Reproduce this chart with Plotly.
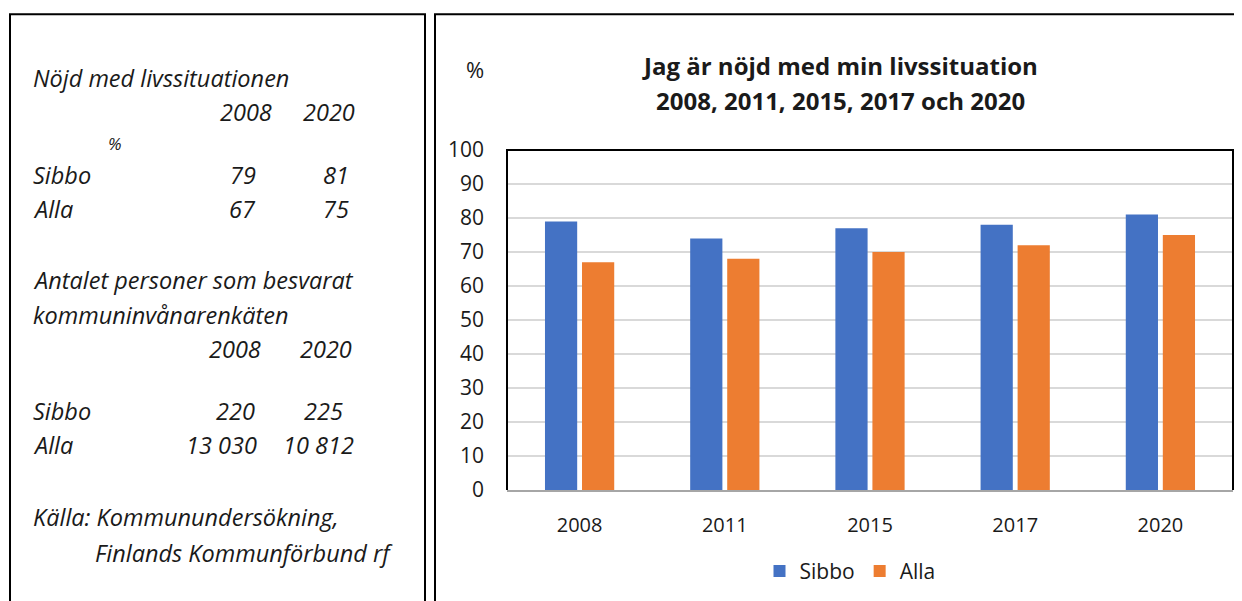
import plotly.graph_objects as go

years = ["2008", "2011", "2015", "2017", "2020"]
sibbo = [79, 74, 77, 78, 81]
alla = [67, 68, 70, 72, 75]
series_names = ["Sibbo", "Alla"]
y_ticks = [0, 10, 20, 30, 40, 50, 60, 70, 80, 90, 100]

side_years = ["2008", "2020"]
side_pct_sibbo = ["79", "81"]
side_pct_alla = ["67", "75"]
side_n_sibbo = ["220", "225"]
side_n_alla = ["13 030", "10 812"]

# page body has an 8px default margin, so work in screen pixels and offset
OFF = 8
W, H = 1242 - OFF, 601 - OFF
L, R, T, B = 507, 1233, 150, 493          # plot area in screen pixels
FONT = "Open Sans"
BLUE = "#4472C4"
ORANGE = "#ED7D31"
TXT = "#1a1a1a"


def xp(px):
    return (px - L) / (R - L)


def yp(py):
    return (B - py) / (B - T)


fig = go.Figure()
fig.add_trace(go.Bar(x=years, y=sibbo, name=series_names[0], marker=dict(color=BLUE, line=dict(width=0))))
fig.add_trace(go.Bar(x=years, y=alla, name=series_names[1], marker=dict(color=ORANGE, line=dict(width=0))))

fig.update_layout(
    width=W, height=H,
    margin=dict(l=L - OFF, r=W - (R - OFF), t=T - OFF, b=H - (B - OFF), pad=0),
    paper_bgcolor="white", plot_bgcolor="white",
    barmode="group", bargap=0.49, bargroupgap=0.13,
    font=dict(family=FONT, size=20, color=TXT),
    showlegend=True,
    legend=dict(orientation="h", x=xp(850), y=yp(575), xanchor="center", yanchor="middle",
                font=dict(size=21, color=TXT), itemwidth=30, traceorder="normal",
                bgcolor="rgba(0,0,0,0)"),
    xaxis=dict(showgrid=False, showline=True, linecolor="#a6a6a6", linewidth=2,
               ticks="", tickfont=dict(size=20), ticklabelstandoff=16, fixedrange=True),
    yaxis=dict(range=[0, 100], tickvals=y_ticks, showgrid=True, gridcolor="#d9d9d9", gridwidth=2,
               zeroline=False, showline=False, ticks="", tickfont=dict(size=21),
               ticklabelstandoff=22, fixedrange=True),
)

shapes = []
# plot area border (top, left, right) in black
shapes.append(dict(type="path", xref="paper", yref="paper",
                   path="M 0 0 L 0 1 L 1 1 L 1 0",
                   line=dict(color="black", width=2), layer="above"))
# left text box
shapes.append(dict(type="path", xref="paper", yref="paper",
                   path=f"M {xp(10)} {yp(640)} L {xp(10)} {yp(13)} L {xp(425)} {yp(13)} L {xp(425)} {yp(640)}",
                   line=dict(color="black", width=2)))
# right chart box
shapes.append(dict(type="path", xref="paper", yref="paper",
                   path=f"M {xp(435)} {yp(640)} L {xp(435)} {yp(13)} L {xp(1270)} {yp(13)}",
                   line=dict(color="black", width=2)))
fig.update_layout(shapes=shapes)

ann = []


def txt(text, x, y, anchor="left", size=23.5, italic=True, bold=False):
    t = text
    if bold:
        t = f"<b>{t}</b>"
    ann.append(dict(text=t, x=xp(x), y=yp(y), xref="paper", yref="paper",
                    xanchor=anchor, yanchor="middle", showarrow=False,
                    font=dict(family=FONT, size=size, color=TXT,
                              style="italic" if italic else "normal")))


# Title and unit
txt("Jag är nöjd med min livssituation", 840, 65, "center", 24, italic=False, bold=True)
txt("2008, 2011, 2015, 2017 och 2020", 840, 100, "center", 24, italic=False, bold=True)
txt("%", 475, 68, "center", 22, italic=False)

# Left panel
txt("Nöjd med livssituationen", 31, 77)
txt(side_years[0], 274, 112, "right")
txt(side_years[1], 357, 112, "right")
txt("%", 115, 143, "center", 17)
txt(series_names[0], 31, 175)
txt(side_pct_sibbo[0], 258, 175, "right")
txt(side_pct_sibbo[1], 351, 175, "right")
txt(series_names[1], 31, 210)
txt(side_pct_alla[0], 258, 210, "right")
txt(side_pct_alla[1], 351, 210, "right")
txt("Antalet personer som besvarat", 31, 281)
txt("kommuninvånarenkäten", 31, 316)
txt(side_years[0], 263, 351, "right")
txt(side_years[1], 354, 351, "right")
txt(series_names[0], 31, 413)
txt(side_n_sibbo[0], 257, 413, "right")
txt(side_n_sibbo[1], 345, 413, "right")
txt(series_names[1], 31, 448)
txt(side_n_alla[0], 259, 448, "right")
txt(side_n_alla[1], 356, 448, "right")
txt("Källa: Kommunundersökning,", 31, 520)
txt("Finlands Kommunförbund rf", 93, 557)

fig.update_layout(annotations=ann)

fig.write_html("out.html")
